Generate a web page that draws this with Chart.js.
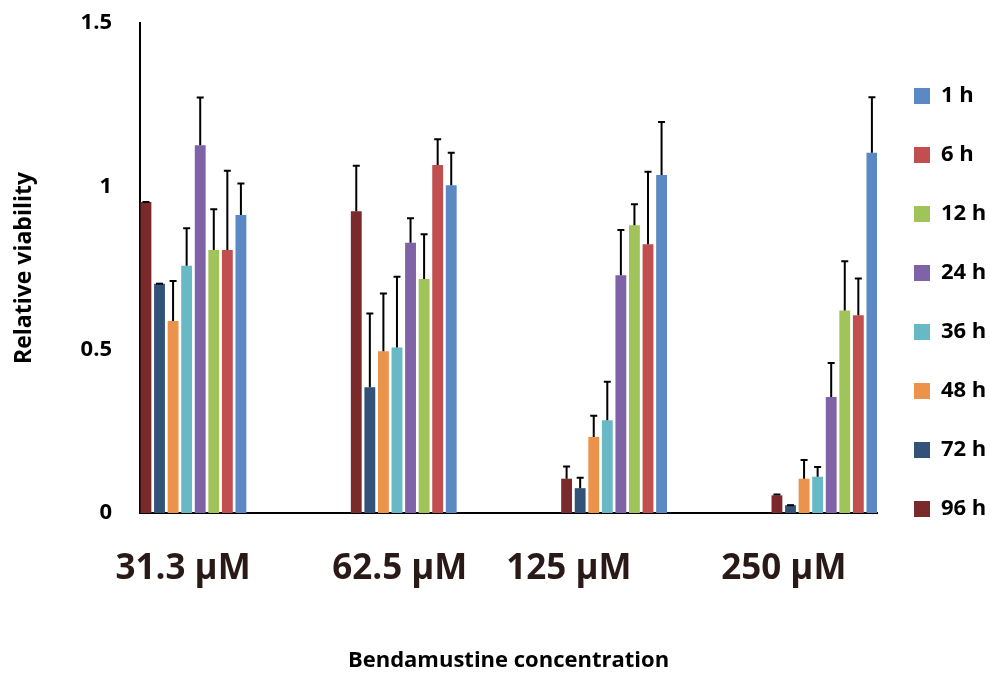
<!DOCTYPE html>
<html>
<head>
<meta charset="utf-8">
<script src="https://cdn.jsdelivr.net/npm/chart.js@4.4.1/dist/chart.umd.min.js"></script>
<style>
  body { margin: 0; background: #ffffff; }
  #myChart { display: block; }
</style>
</head>
<body>
<canvas id="myChart" width="990" height="677"></canvas>
<script>
// categories and series, in the order the bars sit in each group
const concentrations = ['31.3 µM', '62.5 µM', '125 µM', '250 µM'];
const hours = ['96 h', '72 h', '48 h', '36 h', '24 h', '12 h', '6 h', '1 h'];

// mean relative viability per concentration
const mean96 = [0.952, 0.924, 0.105, 0.054];
const mean72 = [0.702, 0.385, 0.076, 0.024];
const mean48 = [0.588, 0.495, 0.233, 0.105];
const mean36 = [0.757, 0.507, 0.284, 0.111];
const mean24 = [1.126, 0.827, 0.728, 0.355];
const mean12 = [0.805, 0.716, 0.881, 0.620];
const mean6  = [0.805, 1.065, 0.823, 0.605];
const mean1  = [0.912, 1.003, 1.035, 1.103];

// upper error bars
const sd96 = [0, 0.139, 0.037, 0.003];
const sd72 = [0, 0.226, 0.032, 0];
const sd48 = [0.122, 0.177, 0.065, 0.057];
const sd36 = [0.115, 0.216, 0.118, 0.030];
const sd24 = [0.146, 0.075, 0.138, 0.104];
const sd12 = [0.125, 0.137, 0.064, 0.151];
const sd6  = [0.243, 0.079, 0.222, 0.113];
const sd1  = [0.097, 0.100, 0.162, 0.170];

const yTicks = [0, 0.5, 1, 1.5];

const means = [mean96, mean72, mean48, mean36, mean24, mean12, mean6, mean1];
const errors = [sd96, sd72, sd48, sd36, sd24, sd12, sd6, sd1];
const colors = ['#7a2a2b', '#33527a', '#ec934b', '#68b9c6', '#7f63a6', '#a0c45a', '#c24f50', '#5b89c3'];

// the labels in the original figure are not centred under the groups
const labelSpots = [-0.049, 0.981, 1.785, 2.807];
const xMin = -0.254, xMax = 3.25;

const boldFont = function(size) {
	return { family: "'Open Sans', sans-serif", weight: 'bold', size: size };
};

const errorBars = {
	id: 'errorBars',
	afterDatasetsDraw: function(chart) {
		const ctx = chart.ctx;
		const yScale = chart.scales.y;
		ctx.save();
		ctx.strokeStyle = '#000';
		ctx.lineWidth = 2;
		chart.data.datasets.forEach(function(ds, i) {
			if (!chart.isDatasetVisible(i)) return;
			chart.getDatasetMeta(i).data.forEach(function(bar, j) {
				const top = yScale.getPixelForValue(ds.data[j].y + ds.errors[j]);
				ctx.beginPath();
				ctx.moveTo(bar.x, bar.y);
				ctx.lineTo(bar.x, top);
				ctx.moveTo(bar.x - 3.5, top);
				ctx.lineTo(bar.x + 3.5, top);
				ctx.stroke();
			});
		});
		ctx.restore();
	}
};

const datasets = hours.map(function(h, i) {
	return {
		label: h,
		data: means[i].map(function(v, k) { return { x: k, y: v }; }),
		errors: errors[i],
		backgroundColor: colors[i],
		borderWidth: 0,
		categoryPercentage: 0.516,
		barPercentage: 0.8
	};
});

new Chart(document.getElementById('myChart'), {
	type: 'bar',
	data: { datasets: datasets },
	plugins: [errorBars],
	options: {
		responsive: false,
		animation: false,
		devicePixelRatio: 1,
		layout: { padding: { top: 23, right: 0, bottom: 0, left: 0 } },
		scales: {
			x: {
				type: 'linear',
				min: xMin,
				max: xMax,
				offset: false,
				grid: { display: false, drawTicks: false },
				border: { color: '#000', width: 2 },
				ticks: { display: false },
				afterBuildTicks: function(s) {
					s.ticks = concentrations.map(function(c, i) { return { value: i }; });
				},
				afterFit: function(s) { s.height = 0; }
			},
			xl: {
				type: 'linear',
				position: 'bottom',
				weight: 1,
				min: xMin,
				max: xMax,
				offset: false,
				grid: { display: false, drawTicks: false },
				border: { display: false },
				afterBuildTicks: function(s) {
					s.ticks = labelSpots.map(function(v) { return { value: v }; });
				},
				ticks: {
					autoSkip: false,
					maxRotation: 0,
					padding: 35,
					color: '#2a1a17',
					font: boldFont(35),
					callback: function(v, i) { return concentrations[i]; }
				},
				title: {
					display: true,
					text: 'Bendamustine concentration',
					color: '#000',
					font: boldFont(22),
					padding: { top: 50, bottom: 3 }
				},
				afterFit: function(s) { s.height = 164; }
			},
			y: {
				min: 0,
				max: 1.5,
				grid: { display: false, drawTicks: false },
				border: { color: '#000', width: 2 },
				afterBuildTicks: function(s) {
					s.ticks = yTicks.map(function(v) { return { value: v }; });
				},
				ticks: {
					padding: 28,
					color: '#000',
					font: boldFont(22),
					callback: function(v) { return String(v); }
				},
				title: {
					display: true,
					text: 'Relative viability',
					color: '#000',
					font: boldFont(23),
					padding: { top: 11, bottom: 0 }
				},
				afterFit: function(s) {
					s.width = 140;
					s.paddingTop = 0;
					s.paddingBottom = 0;
				}
			}
		},
		plugins: {
			tooltip: { enabled: false },
			legend: {
				position: 'right',
				align: 'start',
				reverse: true,
				maxWidth: 113,
				title: { display: true, text: '', font: { size: 10 }, padding: { top: 0, bottom: 13 } },
				labels: {
					boxWidth: 16,
					boxHeight: 16,
					padding: 37,
					color: '#000',
					font: boldFont(22)
				}
			}
		}
	}
});
</script>
</body>
</html>
